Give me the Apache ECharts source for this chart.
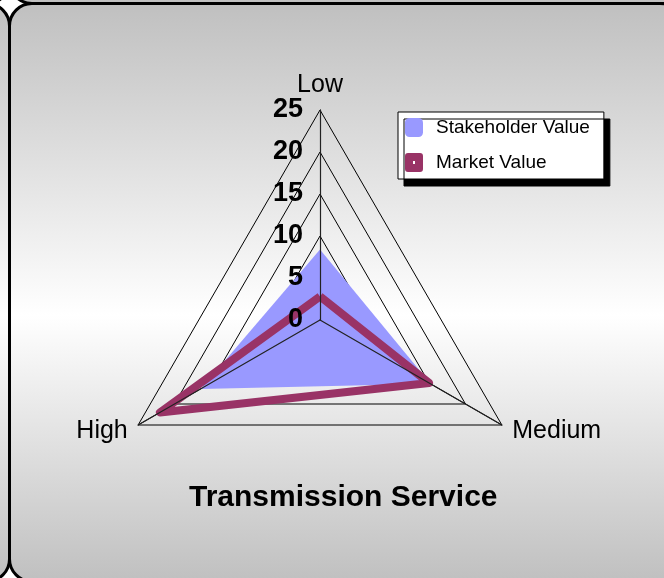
<!DOCTYPE html>
<html>
<head>
<meta charset="utf-8">
<script src="https://cdn.jsdelivr.net/npm/echarts@6/dist/echarts.min.js"></script>
<style>
  html, body { margin: 0; padding: 0; background: #fff; }
  #wrap { position: relative; width: 664px; height: 578px; overflow: hidden; }
  .frame {
    position: absolute;
    box-sizing: border-box;
    width: 676px;
    height: 581px;
    border: 3px solid #000;
    border-radius: 24px;
    background: linear-gradient(to bottom, #c0c0c0 0%, #ffffff 54%, #c0c0c0 100%);
  }
  #chart { position: absolute; left: 0; top: 0; width: 664px; height: 578px; }
</style>
</head>
<body>
<div id="wrap">
  <div id="chart"></div>
</div>
<script>
// indicators (counter-clockwise from top)
const categories = ["Low", "High", "Medium"];
const axisMax = 25;
const stakeholderValue = [8.4, 16.4, 15.2];
const marketValue = [2.8, 22, 15];

// frame grid like the source sheet (neighbouring panels' corners show)
const wrap = document.getElementById("wrap");
const chartEl = document.getElementById("chart");
[-1, 0, 1].forEach(function (r) {
  [-1, 0, 1].forEach(function (c) {
    const d = document.createElement("div");
    d.className = "frame";
    d.style.left = 7.5 + c * 673 + "px";
    d.style.top = 1.5 + r * 578 + "px";
    wrap.insertBefore(d, chartEl);
  });
});

const font = 'Arial, "Liberation Sans", sans-serif';

const myChart = echarts.init(chartEl);
const option = {
  animation: false,
  title: {
    text: "Transmission Service",
    left: 184,
    top: 478,
    textStyle: { color: "#000", fontSize: 30, fontWeight: "bold", fontFamily: font }
  },
  legend: {
    orient: "vertical",
    left: 398,
    top: 112,
    padding: [6, 14, 7, 7],
    itemWidth: 18,
    itemHeight: 19,
    itemGap: 16,
    backgroundColor: "#fff",
    borderColor: "#000",
    borderWidth: 1,
    borderRadius: 0,
    shadowColor: "#000",
    shadowBlur: 0,
    shadowOffsetX: 6,
    shadowOffsetY: 7,
    textStyle: { color: "#000", fontSize: 19, fontFamily: font, padding: [0, 0, 0, 8] },
    data: [
      { name: "Stakeholder Value", icon: "roundRect" },
      {
        name: "Market Value",
        icon: "path://M3,0L15,0Q18,0 18,3L18,16Q18,19 15,19L3,19Q0,19 0,16L0,3Q0,0 3,0ZM8,8L8,11L10,11L10,8Z"
      }
    ]
  },
  radar: [
    {
      center: [320, 320],
      radius: 210,
      shape: "polygon",
      splitNumber: 5,
      indicator: categories.map(function (name) {
        return { name: name, min: 0, max: axisMax };
      }),
      axisName: { color: "#000", fontSize: 25, fontFamily: font },
      nameGap: 12,
      axisLabel: { show: false },
      axisTick: { show: false },
      splitArea: { show: false },
      splitLine: { lineStyle: { color: "#000", width: 1 } },
      axisLine: { lineStyle: { color: "#000", width: 1 } }
    },
    {
      // spokes and tick labels drawn over the plotted series
      z: 5,
      center: [320, 320],
      radius: 210,
      shape: "polygon",
      splitNumber: 5,
      indicator: categories.map(function (name, i) {
        const item = { name: "", min: 0, max: axisMax };
        if (i === 0) {
          item.axisLabel = {
            show: true,
            color: "#000",
            fontSize: 27,
            fontWeight: "bold",
            fontFamily: font,
            margin: 17,
            padding: [9, 0, 0, 0]
          };
        }
        return item;
      }),
      axisName: { show: false },
      axisLabel: { show: false },
      axisTick: { show: false },
      splitArea: { show: false },
      splitLine: { show: false },
      axisLine: { lineStyle: { color: "#222", width: 1.2 } }
    }
  ],
  series: [
    {
      type: "radar",
      radarIndex: 0,
      z: 2,
      symbol: "none",
      data: [
        {
          name: "Stakeholder Value",
          value: stakeholderValue,
          itemStyle: { color: "#9999ff" },
          lineStyle: { width: 0, color: "#9999ff" },
          areaStyle: { color: "#9999ff", opacity: 1 }
        }
      ]
    },
    {
      type: "radar",
      radarIndex: 0,
      z: 4,
      symbol: "none",
      data: [
        {
          name: "Market Value",
          value: marketValue,
          itemStyle: { color: "#993366" },
          lineStyle: { width: 8, color: "#993366", join: "round" }
        }
      ]
    }
  ]
};
myChart.setOption(option);
window.addEventListener("resize", function () {
  myChart.resize();
});
</script>
</body>
</html>
